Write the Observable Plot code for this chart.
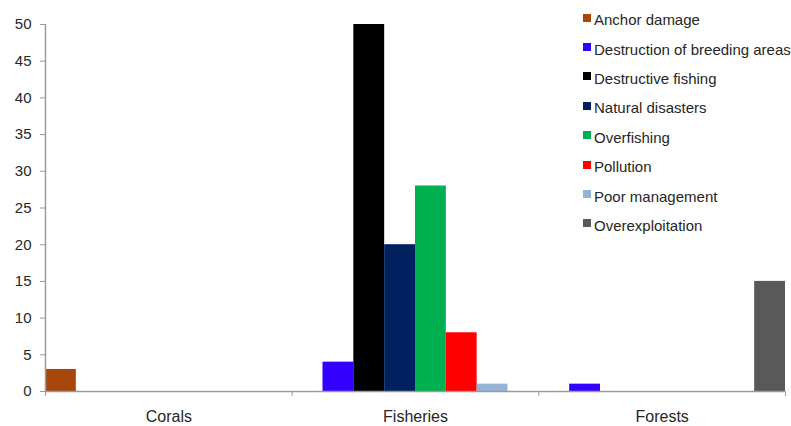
<!DOCTYPE html>
<html>
<head>
<meta charset="utf-8">
<script src="https://cdn.jsdelivr.net/npm/d3@7"></script>
<script src="https://cdn.jsdelivr.net/npm/@observablehq/plot@0.6"></script>
<style>
  html, body { margin: 0; padding: 0; background: #fff; }
  #chart { position: relative; width: 791px; height: 426px; font-family: "Liberation Sans", Arial, sans-serif; }
  #legend { position: absolute; left: 583px; top: 5px; color: #262626; font-size: 15px; }
  #legend .row { display: flex; align-items: center; height: 29.4px; white-space: nowrap; }
  #legend .sw { width: 8px; height: 8px; margin-right: 3px; margin-top: -4px; flex: none; }
</style>
</head>
<body>
<div id="chart"><div id="legend"></div></div>
<script>
// Habitat categories along the x axis
const categories = ["Corals", "Fisheries", "Forests"];

// Threat causes (one bar per cause within each category)
const causes = [
  "Anchor damage",
  "Destruction of breeding areas",
  "Destructive fishing",
  "Natural disasters",
  "Overfishing",
  "Pollution",
  "Poor management",
  "Overexploitation"
];
const causeColors = ["#A8470C", "#3300FF", "#000000", "#002060", "#00B050", "#FF0000", "#95B3D7", "#595959"];

// Counts per category: Corals, Fisheries, Forests
const anchorDamage        = [3, 0, 0];
const destructionBreeding = [0, 4, 1];
const destructiveFishing  = [0, 50, 0];
const naturalDisasters    = [0, 20, 0];
const overfishing         = [0, 28, 0];
const pollution           = [0, 8, 0];
const poorManagement      = [0, 1, 0];
const overexploitation    = [0, 0, 15];

const yTicks = [0, 5, 10, 15, 20, 25, 30, 35, 40, 45, 50];

const seriesValues = [
  anchorDamage, destructionBreeding, destructiveFishing, naturalDisasters,
  overfishing, pollution, poorManagement, overexploitation
];

// Each category occupies a group of slots, one slot per cause
const slots = causes.length;
const rows = [];
seriesValues.forEach((vals, i) => {
  vals.forEach((v, j) => {
    if (v > 0) rows.push({cause: causes[i], category: categories[j], slot: j * slots + i, value: v});
  });
});

const boundaries = categories.map((_, j) => j * slots).concat([categories.length * slots]);
const centers = categories.map((_, j) => j * slots + slots / 2);

const axisColor = "#9a9a9a";
const textColor = "#262626";

const plot = Plot.plot({
  width: 791,
  height: 426,
  marginLeft: 45,
  marginRight: 6,
  marginTop: 24,
  marginBottom: 35,
  style: {fontFamily: "'Liberation Sans', Arial, sans-serif", color: textColor, background: "transparent"},
  x: {domain: [0, categories.length * slots]},
  y: {domain: [0, 50]},
  color: {domain: causes, range: causeColors},
  marks: [
    Plot.rectY(rows, {x1: "slot", x2: d => d.slot + 1, y: "value", fill: "cause", insetLeft: 0, insetRight: 0}),
    Plot.ruleY([0], {stroke: axisColor, strokeWidth: 1.5}),
    Plot.ruleX([0], {stroke: axisColor, strokeWidth: 1.5}),
    Plot.axisY({ticks: yTicks, tickSize: 5, tickPadding: 9, stroke: axisColor, fill: textColor, fontSize: 15, label: null}),
    Plot.axisX({ticks: boundaries, tickSize: 5, tickFormat: () => "", stroke: axisColor, label: null}),
    Plot.axisX({ticks: centers, tickSize: 0, tickPadding: 19, tickFormat: (d, i) => categories[i], fill: textColor, fontSize: 16, label: null})
  ]
});

const chart = document.getElementById("chart");
chart.insertBefore(plot, chart.firstChild);

// Legend listing each cause with its colour swatch
const legend = d3.select("#legend");
causes.forEach((c, i) => {
  const row = legend.append("div").attr("class", "row");
  row.append("div").attr("class", "sw").style("background", causeColors[i]);
  row.append("span").text(c);
});
</script>
</body>
</html>
